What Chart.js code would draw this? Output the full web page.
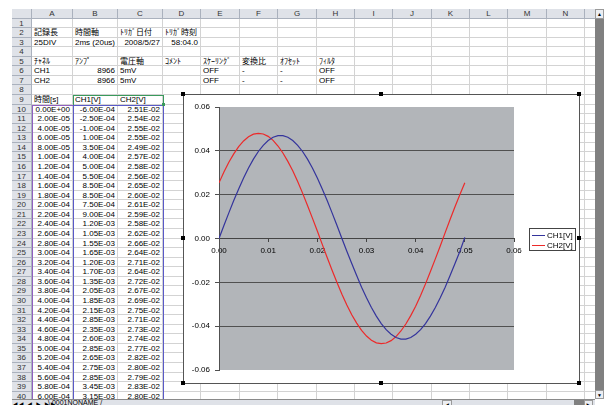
<!DOCTYPE html>
<html>
<head>
<meta charset="utf-8">
<script src="https://cdn.jsdelivr.net/npm/chart.js@4.4.0/dist/chart.umd.min.js"></script>
<style>
html, body { margin: 0; padding: 0; background: #fff; }
body { width: 611px; height: 405px; position: relative; overflow: hidden;
       font-family: "Liberation Sans", "Noto Sans CJK JP", sans-serif; font-size: 8px; color: #000; }
#sheet { position: absolute; left: 0; top: 0; width: 595px; height: 399px; overflow: hidden; }
.c { position: absolute; box-sizing: border-box; border-right: 1px solid #d3d3d3; border-bottom: 1px solid #d3d3d3;
     white-space: nowrap; padding: 0 2px; }
.hd { position: absolute; box-sizing: border-box; background: #dfe2e8; border-right: 1px solid #aab1bd;
      border-bottom: 1px solid #aab1bd; text-align: center; color: #333; font-size: 8px; }
.r { text-align: right; }
.box { position: absolute; box-sizing: border-box; pointer-events: none; }
.hnd { position: absolute; width: 4px; height: 4px; background: #000; }
#chartObj { position: absolute; left: 183px; top: 94px; width: 397px; height: 290px; box-sizing: border-box;
            border: 1px solid #555; background: #fff; }
#vscroll { position: absolute; left: 595px; top: 9px; width: 9px; height: 390px; background: #808080; }
.btn { position: absolute; box-sizing: border-box; background: #eceef2; border: 1px solid #9a9a9a;
       font-size: 5px; line-height: 8px; text-align: center; color: #000; }
#tabs { position: absolute; left: 12px; top: 399px; width: 583px; height: 8px; background: #dfe2e8;
        border-top: 1px solid #8a8a8a; font-size: 7px; line-height: 8px; }
</style>
</head>
<body>
<div id="sheet"></div>
<div id="chartObj"><canvas id="waveChart" width="395" height="288"></canvas></div>
<div id="vscroll">
  <div class="btn" style="left:0;top:0;width:9px;height:10px;">▲</div>
  <div class="btn" style="left:0;top:381px;width:9px;height:9px;">▼</div>
</div>
<div id="tabs">
  <span style="position:absolute;left:1px;top:0;letter-spacing:1px;font-size:5px;">◀◀ ◀ ▶ ▶▶</span>
  <span style="position:absolute;left:36px;top:-1px;">\ 0001NONAME /</span>
  <div class="btn" style="left:430px;top:0;width:10px;height:8px;">◀</div>
  <div style="position:absolute;left:562px;top:0;width:10px;height:8px;background:#808080;"></div>
  <div class="btn" style="left:572px;top:0;width:9px;height:8px;">▶</div>
</div>
<script>
// 表のデータ (行10〜40)
const timeCol = ["0.00E+00","2.00E-05","4.00E-05","6.00E-05","8.00E-05","1.00E-04","1.20E-04","1.40E-04","1.60E-04","1.80E-04",
  "2.00E-04","2.20E-04","2.40E-04","2.60E-04","2.80E-04","3.00E-04","3.20E-04","3.40E-04","3.60E-04","3.80E-04",
  "4.00E-04","4.20E-04","4.40E-04","4.60E-04","4.80E-04","5.00E-04","5.20E-04","5.40E-04","5.60E-04","5.80E-04","6.00E-04"];
const ch1Col = ["-6.00E-04","-2.50E-04","-1.00E-04","1.00E-04","3.50E-04","4.00E-04","5.00E-04","5.50E-04","8.50E-04","8.50E-04",
  "7.50E-04","9.00E-04","1.20E-03","1.05E-03","1.55E-03","1.65E-03","1.20E-03","1.70E-03","1.35E-03","2.05E-03",
  "1.85E-03","2.15E-03","2.85E-03","2.35E-03","2.60E-03","2.85E-03","2.65E-03","2.75E-03","2.85E-03","3.45E-03","3.15E-03"];
const ch2Col = ["2.51E-02","2.54E-02","2.55E-02","2.55E-02","2.49E-02","2.57E-02","2.58E-02","2.56E-02","2.65E-02","2.60E-02",
  "2.61E-02","2.59E-02","2.58E-02","2.62E-02","2.66E-02","2.64E-02","2.71E-02","2.64E-02","2.72E-02","2.67E-02",
  "2.69E-02","2.75E-02","2.71E-02","2.73E-02","2.74E-02","2.77E-02","2.82E-02","2.80E-02","2.79E-02","2.83E-02","2.80E-02"];

// 上部の設定欄
const row2 = ["記録長", "時間軸", "ﾄﾘｶﾞ日付", "ﾄﾘｶﾞ時刻"];
const row3 = ["25DIV", "2ms (20us)", "2008/5/27", "58:04.0"];
const row5 = ["ﾁｬﾈﾙ", "ｱﾝﾌﾟ", "電圧軸", "ｺﾒﾝﾄ", "ｽｹｰﾘﾝｸﾞ", "変換比", "ｵﾌｾｯﾄ", "ﾌｨﾙﾀ"];
const row6 = ["CH1", "8966", "5mV", "", "OFF", "-", "-", "OFF"];
const row7 = ["CH2", "8966", "5mV", "", "OFF", "-", "-", "OFF"];
const row9 = ["時間[s]", "CH1[V]", "CH2[V]"];

// グラフ用の波形 (0〜0.05 s を 1 ms ごとに読み取り)
const sampleTime = [0.000,0.001,0.002,0.003,0.004,0.005,0.006,0.007,0.008,0.009,0.010,
  0.011,0.012,0.013,0.014,0.015,0.016,0.017,0.018,0.019,0.020,
  0.021,0.022,0.023,0.024,0.025,0.026,0.027,0.028,0.029,0.030,
  0.031,0.032,0.033,0.034,0.035,0.036,0.037,0.038,0.039,0.040,
  0.041,0.042,0.043,0.044,0.045,0.046,0.047,0.048,0.049,0.050];
const ch1Wave = [0.0000,0.0059,0.0117,0.0173,0.0226,0.0276,0.0322,0.0362,0.0397,0.0425,0.0447,
  0.0462,0.0469,0.0469,0.0462,0.0447,0.0425,0.0397,0.0362,0.0322,0.0276,
  0.0226,0.0173,0.0117,0.0059,0.0000,-0.0058,-0.0114,-0.0169,-0.0222,-0.0270,
  -0.0315,-0.0354,-0.0388,-0.0416,-0.0437,-0.0452,-0.0459,-0.0459,-0.0452,-0.0437,
  -0.0416,-0.0388,-0.0354,-0.0315,-0.0270,-0.0222,-0.0169,-0.0114,-0.0058,0.0005];
const ch2Wave = [0.0254,0.0303,0.0348,0.0386,0.0419,0.0445,0.0464,0.0476,0.0480,0.0477,0.0466,
  0.0448,0.0422,0.0390,0.0352,0.0309,0.0260,0.0207,0.0151,0.0093,0.0034,
  -0.0027,-0.0087,-0.0145,-0.0201,-0.0254,-0.0303,-0.0348,-0.0386,-0.0419,-0.0445,
  -0.0464,-0.0476,-0.0480,-0.0477,-0.0466,-0.0448,-0.0422,-0.0390,-0.0352,-0.0309,
  -0.0260,-0.0207,-0.0151,-0.0093,-0.0034,0.0027,0.0087,0.0145,0.0201,0.0254];
const seriesNames = ["CH1[V]", "CH2[V]"];

// ---- シート描画 ----
const sheet = document.getElementById("sheet");
const colEdges = [32, 73, 118, 163, 201, 240, 278, 317, 355, 393, 432, 470, 508, 547, 585, 624];
const colNames = "ABCDEFGHIJKLMNO".split("");
const rowTop = r => Math.round(18.5 + (r - 1) * 9.57);
const numLike = /^-?\d[\d.\/:E+\-]*$/;

function div(cls, x, y, w, h, text) {
    const d = document.createElement("div");
    d.className = cls;
    d.style.left = x + "px"; d.style.top = y + "px";
    d.style.width = w + "px"; d.style.height = h + "px";
    d.style.lineHeight = h + "px";
    if (text) d.textContent = text;
    sheet.appendChild(d);
    return d;
}

const cellText = {};
function put(row, vals, startCol) {
    vals.forEach((v, i) => { if (v !== "") cellText[row + ":" + (startCol + i)] = v; });
}
put(2, row2, 0); put(3, row3, 0); put(5, row5, 0); put(6, row6, 0); put(7, row7, 0); put(9, row9, 0);
for (let i = 0; i < timeCol.length; i++) {
    put(10 + i, [timeCol[i], ch1Col[i], ch2Col[i]], 0);
}

div("hd", 12, 9, 20, 10, "");
for (let c = 0; c < colNames.length; c++) {
    div("hd", colEdges[c], 9, colEdges[c + 1] - colEdges[c], 10, colNames[c]);
}
for (let r = 1; r <= 41; r++) {
    const y = rowTop(r), h = rowTop(r + 1) - y;
    div("hd", 12, y, 20, h, String(r));
    for (let c = 0; c < colNames.length; c++) {
        const t = cellText[r + ":" + c] || "";
        const d = div("c", colEdges[c], y, colEdges[c + 1] - colEdges[c], h, t);
        if (numLike.test(t)) d.classList.add("r");
    }
}

// 参照範囲の枠
const topRow9 = rowTop(9), topRow10 = rowTop(10);
let b = div("box", 73, topRow9, 91, topRow10 - topRow9 + 1, "");
b.style.border = "1px solid #3a9a5c";
b = div("box", 32, topRow10, 42, 400 - topRow10, "");
b.style.border = "1px solid #9060c0";
b = div("box", 73, topRow10, 91, 400 - topRow10, "");
b.style.border = "1px solid #5a5ac8";
b = div("box", 162, topRow10 - 2, 3, 3, "");
b.style.background = "#3a9a5c";

// グラフのハンドル
[[183, 94], [381, 94], [579, 94], [183, 238], [579, 238], [183, 383], [381, 383], [579, 383]].forEach(p => {
    const h = document.createElement("div");
    h.className = "hnd";
    h.style.left = (p[0] - 2) + "px"; h.style.top = (p[1] - 2) + "px";
    document.body.appendChild(h);
});

// ---- グラフ ----
const plotBg = {
    id: "plotBg",
    beforeDraw(chart) {
        const a = chart.chartArea, c = chart.ctx;
        c.save();
        c.fillStyle = "#b2b5b9";
        c.fillRect(a.left, a.top, a.right - a.left, a.bottom - a.top);
        c.restore();
    }
};

const legendBox = {
    id: "legendBox",
    afterDraw(chart) {
        const c = chart.ctx, a = chart.chartArea;
        const w = 46, h = 22;
        const x = Math.round(a.right + 15), y = Math.round((a.top + a.bottom) / 2 - h / 2);
        c.save();
        c.fillStyle = "#fff";
        c.fillRect(x, y, w, h);
        c.strokeStyle = "#444";
        c.lineWidth = 1;
        c.strokeRect(x + 0.5, y + 0.5, w, h);
        c.font = '8px "Liberation Sans"';
        c.textBaseline = "middle";
        chart.data.datasets.forEach((ds, i) => {
            const ly = y + 7.5 + i * 10;
            c.strokeStyle = ds.borderColor;
            c.beginPath(); c.moveTo(x + 3, ly); c.lineTo(x + 16, ly); c.stroke();
            c.fillStyle = "#000";
            c.fillText(ds.label, x + 18, ly);
        });
        c.restore();
    }
};

const tickFont = { size: 8, family: "Liberation Sans" };

new Chart(document.getElementById("waveChart").getContext("2d"), {
    type: "line",
    data: {
        datasets: [
            {
                label: seriesNames[0],
                data: sampleTime.map((t, i) => ({ x: t, y: ch1Wave[i] })),
                borderColor: "#34349c",
                borderWidth: 1.2,
                pointRadius: 0,
                fill: false
            },
            {
                label: seriesNames[1],
                data: sampleTime.map((t, i) => ({ x: t, y: ch2Wave[i] })),
                borderColor: "#ec2a2a",
                borderWidth: 1.2,
                pointRadius: 0,
                fill: false
            }
        ]
    },
    options: {
        responsive: false,
        animation: false,
        layout: { padding: { top: 12, right: 65, bottom: 13, left: 0 } },
        plugins: { legend: { display: false }, tooltip: { enabled: false } },
        scales: {
            x: {
                type: "linear",
                position: { y: 0 },
                min: 0, max: 0.06,
                ticks: { stepSize: 0.01, callback: v => v.toFixed(2), font: tickFont, color: "#000", padding: 4, maxRotation: 0 },
                grid: { drawOnChartArea: false, drawTicks: true, tickLength: 3, tickColor: "#444" },
                border: { color: "#444", width: 1 }
            },
            y: {
                min: -0.06, max: 0.06,
                afterFit(scale) { scale.width = 35; },
                ticks: { stepSize: 0.02, callback: v => v.toFixed(2), font: tickFont, color: "#000", padding: 5 },
                grid: {
                    color: ctx => (ctx.tick && Math.abs(ctx.tick.value) > 0.059) ? "rgba(0,0,0,0)" : "#505050",
                    tickColor: "#505050",
                    tickLength: 4
                },
                border: { color: "#505050" }
            }
        }
    },
    plugins: [plotBg, legendBox]
});
</script>
</body>
</html>
